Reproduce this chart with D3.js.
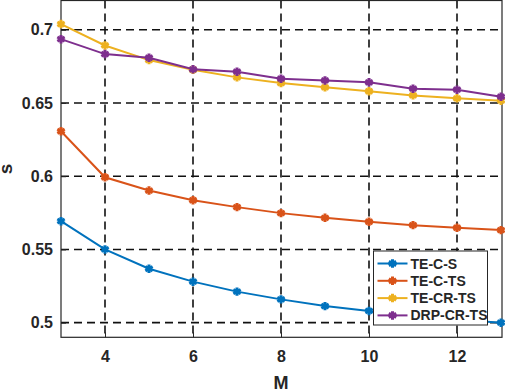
<!DOCTYPE html>
<html>
<head>
<meta charset="utf-8">
<script src="https://cdn.jsdelivr.net/npm/d3@7"></script>
<style>
  body { margin: 0; background: #fff; }
  svg text { font-family: "Liberation Sans", Arial, sans-serif; font-weight: bold; fill: #262626; }
</style>
</head>
<body>
<div id="chart"></div>
<script>
var mValues = [3, 4, 5, 6, 7, 8, 9, 10, 11, 12, 13];
var teCS = [0.5693, 0.5500, 0.5368, 0.5280, 0.5212, 0.5159, 0.5113, 0.5080, 0.5048, 0.5022, 0.5000];
var teCTS = [0.6307, 0.5993, 0.5902, 0.5836, 0.5789, 0.5748, 0.5716, 0.5689, 0.5666, 0.5648, 0.5632];
var teCRTS = [0.7039, 0.6893, 0.6793, 0.6727, 0.6675, 0.6636, 0.6607, 0.6580, 0.6552, 0.6532, 0.6516];
var drpCRTS = [0.6936, 0.6834, 0.6809, 0.6730, 0.6714, 0.6666, 0.6654, 0.6641, 0.6598, 0.6591, 0.6543];
var seriesNames = ['TE-C-S', 'TE-C-TS', 'TE-CR-TS', 'DRP-CR-TS'];
var seriesColors = ['#0072BD', '#D95319', '#EDB120', '#7E2F8E'];
var xTicks = [4, 6, 8, 10, 12];
var yTicks = [0.5, 0.55, 0.6, 0.65, 0.7];

var allSeries = [teCS, teCTS, teCRTS, drpCRTS];

var width = 505, height = 390;
var plotLeft = 61, plotRight = 501, plotTop = 0.5, plotBottom = 337.3;

var svg = d3.select('#chart').append('svg')
    .attr('width', width)
    .attr('height', height);

var x = d3.scaleLinear().domain([3, 13]).range([plotLeft, plotRight]);
var y = d3.scaleLinear().domain([0.49, 0.72]).range([plotBottom, plotTop]);

// grid
svg.append('g').selectAll('line')
    .data(xTicks)
    .enter().append('line')
    .attr('x1', function(d) { return x(d); })
    .attr('x2', function(d) { return x(d); })
    .attr('y1', plotTop)
    .attr('y2', plotBottom)
    .attr('stroke', '#111')
    .attr('stroke-width', 1.6)
    .attr('stroke-dasharray', '8,5');

svg.append('g').selectAll('line')
    .data(yTicks)
    .enter().append('line')
    .attr('x1', plotLeft)
    .attr('x2', plotRight)
    .attr('y1', function(d) { return y(d); })
    .attr('y2', function(d) { return y(d); })
    .attr('stroke', '#111')
    .attr('stroke-width', 1.6)
    .attr('stroke-dasharray', '8,5');

// axes
var xAxis = svg.append('g')
    .attr('transform', 'translate(0,' + plotBottom + ')')
    .call(d3.axisBottom(x).tickValues(xTicks).tickSize(-5).tickPadding(13).tickFormat(d3.format('d')));
var yAxis = svg.append('g')
    .attr('transform', 'translate(' + plotLeft + ',0)')
    .call(d3.axisLeft(y).tickValues(yTicks).tickSize(-5).tickPadding(8).tickFormat(function(d) { return String(+d.toFixed(2)); }));

[xAxis, yAxis].forEach(function(a) {
    a.select('.domain').remove();
    a.selectAll('line').attr('stroke', '#262626');
    a.selectAll('text').attr('font-size', 16).attr('fill', '#262626');
});

svg.append('rect')
    .attr('x', plotLeft)
    .attr('y', plotTop)
    .attr('width', plotRight + 1 - plotLeft)
    .attr('height', plotBottom - plotTop)
    .attr('fill', 'none')
    .attr('stroke', '#262626')
    .attr('stroke-width', 1.2);

// series
var line = d3.line()
    .x(function(d, i) { return x(mValues[i]); })
    .y(function(d) { return y(d); });
var marker = d3.symbol().type(d3.symbolAsterisk).size(50);

allSeries.forEach(function(vals, k) {
    var g = svg.append('g');
    g.append('path')
        .attr('d', line(vals))
        .attr('fill', 'none')
        .attr('stroke', seriesColors[k])
        .attr('stroke-width', 2);
    g.selectAll('path.m')
        .data(vals)
        .enter().append('path')
        .attr('class', 'm')
        .attr('d', marker)
        .attr('transform', function(d, i) { return 'translate(' + x(mValues[i]) + ',' + y(d) + ')'; })
        .attr('fill', 'none')
        .attr('stroke', seriesColors[k])
        .attr('stroke-width', 3);
});

// labels
svg.append('text')
    .attr('x', x(8))
    .attr('y', 389)
    .attr('text-anchor', 'middle')
    .attr('font-size', 18)
    .text('M');
svg.append('text')
    .attr('transform', 'translate(12,169) rotate(-90)')
    .attr('text-anchor', 'middle')
    .attr('font-size', 19)
    .text('s');

// legend
var legend = svg.append('g').attr('transform', 'translate(373.5,251)');
legend.append('rect')
    .attr('width', 114)
    .attr('height', 74)
    .attr('fill', '#fff')
    .attr('stroke', '#262626')
    .attr('stroke-width', 1);
seriesNames.forEach(function(name, k) {
    var ly = 12.5 + k * 17.3;
    legend.append('line')
        .attr('x1', 4).attr('x2', 34)
        .attr('y1', ly).attr('y2', ly)
        .attr('stroke', seriesColors[k])
        .attr('stroke-width', 2);
    legend.append('path')
        .attr('d', marker)
        .attr('transform', 'translate(19,' + ly + ')')
        .attr('fill', 'none')
        .attr('stroke', seriesColors[k])
        .attr('stroke-width', 3);
    legend.append('text')
        .attr('x', 37)
        .attr('y', ly + 5)
        .attr('font-size', 14)
        .attr('fill', '#000')
        .text(name);
});
</script>
</body>
</html>
